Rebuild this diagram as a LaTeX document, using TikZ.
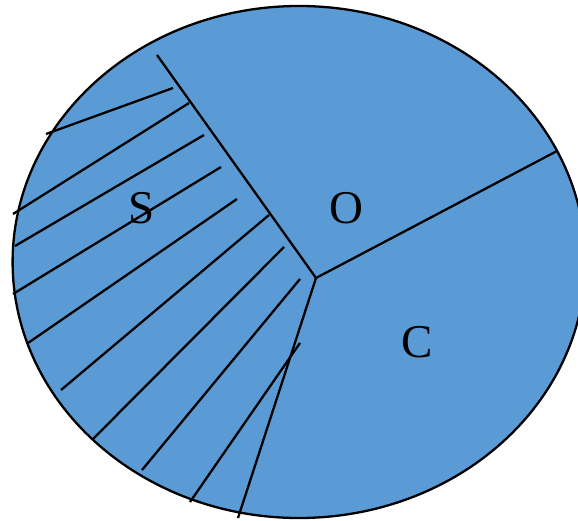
\documentclass[tikz,border=0pt]{standalone}
\usepackage{fontspec}
\setmainfont{Liberation Serif}
\definecolor{pieblue}{HTML}{5B9BD5}
\tikzset{
  edge/.style={draw=black,line width=2.3pt},
  lbl/.style={inner sep=0pt,font=\fontsize{47}{50}\selectfont}
}
\begin{document}
\begin{tikzpicture}[x=1pt,y=-1pt]
\useasboundingbox (0,0) rectangle (578,521);
\draw[edge,fill=pieblue] (299,262) ellipse [x radius=286.4, y radius=256];
\coordinate (P) at (316,278);
\coordinate (T) at (157,55);
\coordinate (R) at (557,151);
\coordinate (B) at (238,518);
\draw[edge] (P) -- (T);
\draw[edge] (P) -- (R);
\draw[edge] (P) -- (B);
% hatch lines
\coordinate (h1a) at (46,134);  \coordinate (h1b) at (173,88);
\coordinate (h2a) at (13,214);  \coordinate (h2b) at (189,103);
\coordinate (h3a) at (15,246);  \coordinate (h3b) at (204,135);
\coordinate (h4a) at (13,294);  \coordinate (h4b) at (221,167);
\coordinate (h5a) at (28,343);  \coordinate (h5b) at (237,199);
\coordinate (h6a) at (61,390);  \coordinate (h6b) at (269,215);
\coordinate (h7a) at (93,439);  \coordinate (h7b) at (284,247);
\coordinate (h8a) at (142,470); \coordinate (h8b) at (300,279);
\coordinate (h9a) at (190,502); \coordinate (h9b) at (300,343);
\foreach \i in {1,...,9} { \draw[edge] (h\i a) -- (h\i b); }
\node[lbl] (S) at (142,208) {S};
\node[lbl] (O) at (346,208) {O};
\node[lbl] (C) at (417,342) {C};
\end{tikzpicture}
\end{document}
